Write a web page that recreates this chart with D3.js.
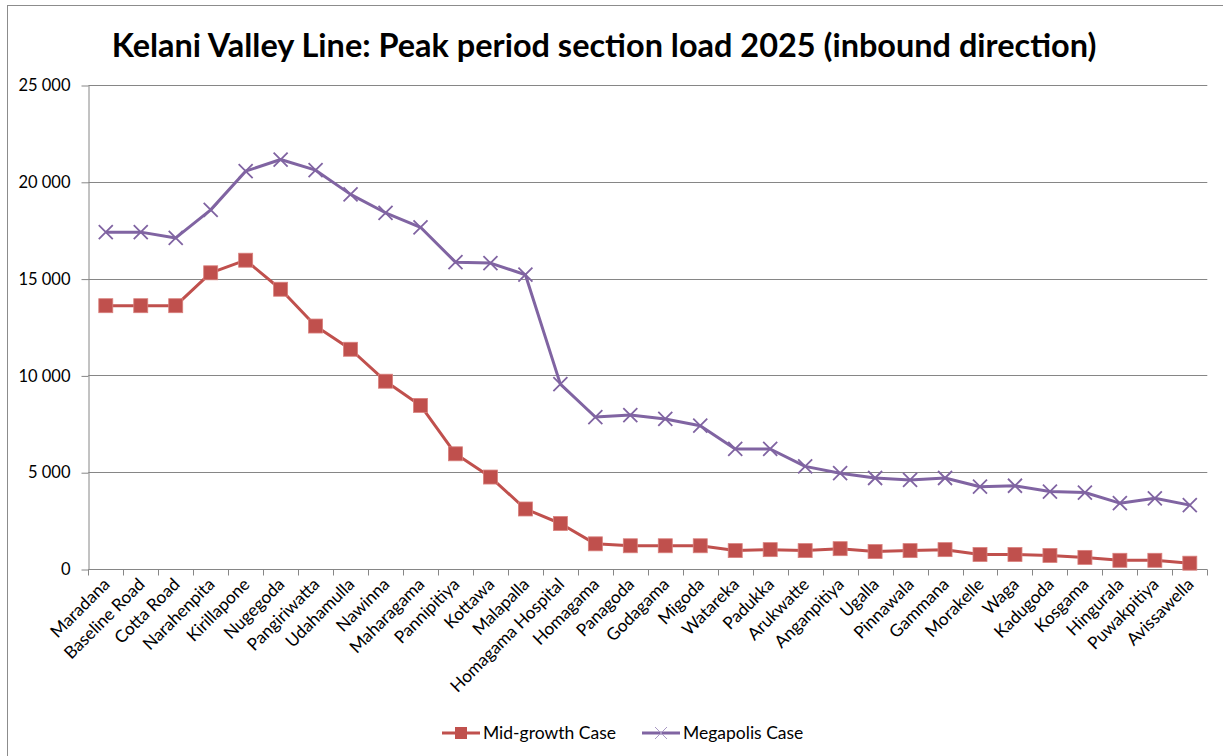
<!DOCTYPE html>
<html>
<head>
<meta charset="utf-8">
<script src="https://cdn.jsdelivr.net/npm/d3@7"></script>
<style>
  html, body { margin: 0; padding: 0; background: #fff; }
  svg { display: block; }
  text { font-family: Lato, "Open Sans", sans-serif; fill: #000; }
</style>
</head>
<body>
<svg id="chart" width="1223" height="756"></svg>
<script>
// Stations along the Kelani Valley Line, inbound order
const stations = [
  "Maradana", "Baseline Road", "Cotta Road", "Narahenpita", "Kirillapone",
  "Nugegoda", "Pangiriwatta", "Udahamulla", "Nawinna", "Maharagama",
  "Pannipitiya", "Kottawa", "Malapalla", "Homagama Hospital", "Homagama",
  "Panagoda", "Godagama", "Migoda", "Watareka", "Padukka", "Arukwatte",
  "Anganpitiya", "Ugalla", "Pinnawala", "Gammana", "Morakelle", "Waga",
  "Kadugoda", "Kosgama", "Hingurala", "Puwakpitiya", "Avissawella"
];

// Peak period section load (passengers), mid-growth scenario
const midGrowth = [
  13600, 13600, 13600, 15300, 15950, 14450, 12550, 11350, 9700, 8450,
  5950, 4750, 3100, 2350, 1300, 1200, 1200, 1200, 950, 1000, 950,
  1050, 900, 950, 1000, 750, 750, 700, 600, 450, 450, 300
];

// Peak period section load (passengers), megapolis scenario
const megapolis = [
  17400, 17400, 17100, 18550, 20550, 21150, 20600, 19350, 18400, 17650,
  15850, 15800, 15200, 9550, 7850, 7950, 7750, 7400, 6200, 6200, 5300,
  4950, 4700, 4600, 4700, 4250, 4300, 4000, 3950, 3400, 3650, 3300
];

const yTicks = [0, 5000, 10000, 15000, 20000, 25000];
const titleText = "Kelani Valley Line: Peak period section load 2025 (inbound direction)";
const seriesNames = ["Mid-growth Case", "Megapolis Case"];

const RED = "#C0504D", PURPLE = "#8064A2", GRID = "#868686";

const svg = d3.select("#chart");

// chart frame
svg.append("rect")
  .attr("x", 7.5).attr("y", 5.5)
  .attr("width", 1230).attr("height", 760)
  .attr("fill", "none").attr("stroke", "#8c8c8c").attr("stroke-width", 1);

const plot = { left: 88.3, right: 1207.3, top: 85, bottom: 569 };

const x = d3.scaleBand().domain(stations).range([plot.left, plot.right]).padding(0);
const y = d3.scaleLinear().domain([0, 25000]).range([plot.bottom, plot.top]);
const cx = d => x(d) + x.bandwidth() / 2;

// horizontal gridlines
svg.append("g")
  .selectAll("line")
  .data(yTicks.filter(t => t > 0))
  .join("line")
  .attr("x1", plot.left).attr("x2", plot.right)
  .attr("y1", d => Math.round(y(d)) + 0.5).attr("y2", d => Math.round(y(d)) + 0.5)
  .attr("stroke", GRID).attr("stroke-width", 1);

// y axis
const yAxis = svg.append("g")
  .attr("transform", `translate(${Math.round(plot.left) + 0.5},0.5)`)
  .call(d3.axisLeft(y).tickValues(yTicks).tickSize(7).tickSizeOuter(0).tickPadding(11)
    .tickFormat(v => v === 0 ? "0" : d3.format(",")(v).replace(",", " ")));
yAxis.select(".domain").attr("stroke", GRID);
yAxis.selectAll(".tick line").attr("stroke", GRID);
yAxis.selectAll(".tick text")
  .attr("font-family", "Lato, sans-serif").attr("font-size", 16.5).attr("fill", "#000");

// x axis with tick marks on band edges
const xAxisG = svg.append("g").attr("transform", `translate(0,${plot.bottom + 0.5})`);
xAxisG.append("line")
  .attr("x1", plot.left).attr("x2", plot.right)
  .attr("stroke", GRID);
const edges = stations.map(s => x(s)).concat([plot.right]);
xAxisG.selectAll("line.tk")
  .data(edges)
  .join("line")
  .attr("class", "tk")
  .attr("x1", d => Math.round(d) + 0.5).attr("x2", d => Math.round(d) + 0.5)
  .attr("y1", 0).attr("y2", 6)
  .attr("stroke", GRID);
xAxisG.selectAll("text")
  .data(stations)
  .join("text")
  .attr("transform", d => `translate(${cx(d) + 5},${16}) rotate(-45)`)
  .attr("text-anchor", "end")
  .attr("font-size", 17.2)
  .text(d => d);

// lines
const line = d3.line().x((d, i) => cx(stations[i])).y(d => y(d));

svg.append("path")
  .datum(midGrowth)
  .attr("d", line)
  .attr("fill", "none").attr("stroke", RED).attr("stroke-width", 3)
  .attr("stroke-linejoin", "round");

svg.append("path")
  .datum(megapolis)
  .attr("d", line)
  .attr("fill", "none").attr("stroke", PURPLE).attr("stroke-width", 3)
  .attr("stroke-linejoin", "round");

// square markers
const sq = 14;
svg.append("g")
  .selectAll("rect")
  .data(midGrowth)
  .join("rect")
  .attr("x", (d, i) => cx(stations[i]) - sq / 2)
  .attr("y", d => y(d) - sq / 2)
  .attr("width", sq).attr("height", sq)
  .attr("fill", RED).attr("stroke", "#d9807d").attr("stroke-width", 0.8);

// cross markers
const xs = 7;
const crossPath = (px, py) =>
  `M${px - xs},${py - xs}L${px + xs},${py + xs}M${px - xs},${py + xs}L${px + xs},${py - xs}`;
svg.append("g")
  .selectAll("path")
  .data(megapolis)
  .join("path")
  .attr("d", (d, i) => crossPath(cx(stations[i]), y(d)))
  .attr("stroke", PURPLE).attr("stroke-width", 1.8).attr("fill", "none");

// title
const title = svg.append("text")
  .attr("x", 604).attr("y", 57)
  .attr("text-anchor", "middle")
  .attr("font-weight", "bold")
  .attr("font-size", 29)
  .text(titleText);
const tw = title.node().getComputedTextLength();
title.attr("font-size", 29 * 985 / tw);

// legend
const legend = svg.append("g").attr("transform", "translate(0,733)");
const legendItems = [
  { name: seriesNames[0], color: RED, x0: 442, marker: "square" },
  { name: seriesNames[1], color: PURPLE, x0: 642, marker: "cross" }
];
legendItems.forEach(it => {
  legend.append("line")
    .attr("x1", it.x0).attr("x2", it.x0 + 38)
    .attr("y1", 0).attr("y2", 0)
    .attr("stroke", it.color).attr("stroke-width", 3);
  const mx = it.x0 + 19;
  if (it.marker === "square") {
    legend.append("rect")
      .attr("x", mx - 6).attr("y", -6).attr("width", 12).attr("height", 12)
      .attr("fill", it.color);
  } else {
    legend.append("path")
      .attr("d", `M${mx - 6},-6L${mx + 6},6M${mx - 6},6L${mx + 6},-6`)
      .attr("stroke", "#a898c4").attr("stroke-width", 1);
  }
  legend.append("text")
    .attr("x", it.x0 + 41).attr("y", 6)
    .attr("font-size", 17.5)
    .text(it.name);
});
</script>
</body>
</html>
